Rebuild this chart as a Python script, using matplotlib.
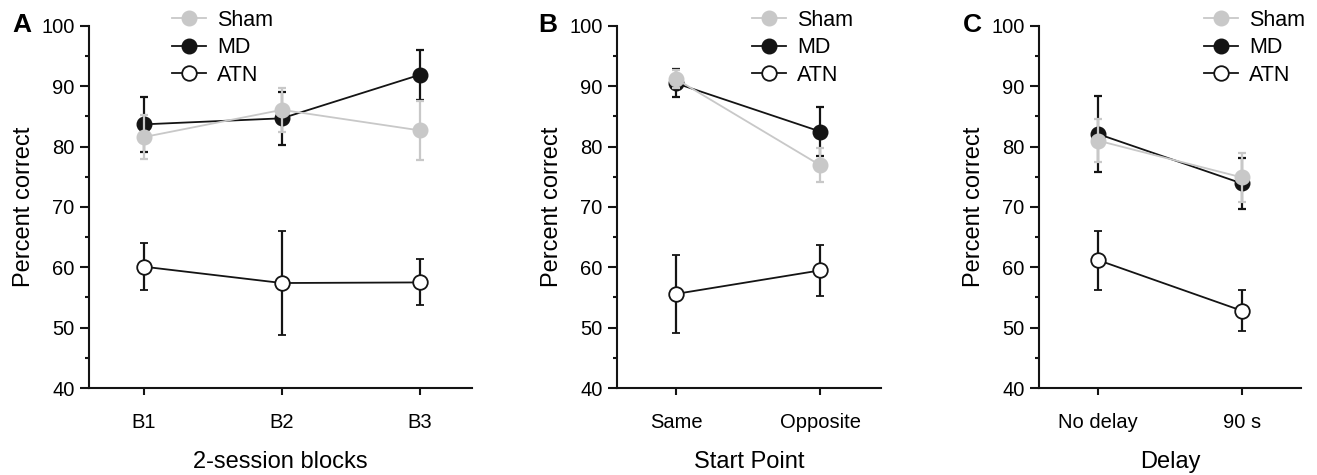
import matplotlib
matplotlib.use("Agg")
import matplotlib.pyplot as plt
from matplotlib.lines import Line2D
from matplotlib.ticker import MultipleLocator

plt.rcParams['font.family'] = ['Liberation Sans', 'DejaVu Sans']

# ---- data ----
groups = ['Sham', 'MD', 'ATN']

# A: 2-session blocks
a_cats = ['B1', 'B2', 'B3']
a_sham = [81.6, 86.1, 82.7]
a_sham_err = [3.6, 3.6, 4.9]
a_md = [83.7, 84.7, 91.9]
a_md_err = [4.6, 4.4, 4.2]
a_atn = [60.1, 57.4, 57.5]
a_atn_err = [3.9, 8.6, 3.8]

# B: start point
b_cats = ['Same', 'Opposite']
b_sham = [91.2, 76.9]
b_sham_err = [1.5, 2.8]
b_md = [90.5, 82.5]
b_md_err = [2.3, 4.1]
b_atn = [55.6, 59.5]
b_atn_err = [6.5, 4.2]

# C: delay
c_cats = ['No delay', '90 s']
c_sham = [81.0, 74.9]
c_sham_err = [3.6, 4.0]
c_md = [82.1, 73.9]
c_md_err = [6.3, 4.2]
c_atn = [61.2, 52.8]
c_atn_err = [4.9, 3.4]

GREY = '#c8c8c8'
BLACK = '#141414'

fig = plt.figure(figsize=(13.17, 4.75), dpi=100)

W, H = 1317, 475
def px_axes(left, right, top=26, bottom=388):
    return fig.add_axes([left / W, 1 - bottom / H, (right - left) / W, (bottom - top) / H])


def panel(ax, cats, sham, sham_err, md, md_err, atn, atn_err, xlim, xlabel):
    x = list(range(len(cats)))
    eb = dict(capsize=3, elinewidth=1.6, capthick=1.6, markersize=10.5, lw=1.3)
    ax.errorbar(x, atn, yerr=atn_err, color=BLACK, ecolor=BLACK, marker='o',
                mfc='white', mec=BLACK, mew=1.3, zorder=3, **eb)
    ax.errorbar(x, md, yerr=md_err, color=BLACK, ecolor=BLACK, marker='o',
                mfc=BLACK, mec=BLACK, zorder=4, **eb)
    ax.errorbar(x, sham, yerr=sham_err, color=GREY, ecolor=GREY, marker='o',
                mfc=GREY, mec=GREY, zorder=5, **eb)
    ax.set_xlim(*xlim)
    ax.set_ylim(40, 100)
    ax.set_xticks(x)
    ax.set_xticklabels(cats)
    ax.yaxis.set_major_locator(MultipleLocator(10))
    ax.yaxis.set_minor_locator(MultipleLocator(5))
    for s in ['top', 'right']:
        ax.spines[s].set_visible(False)
    for s in ['left', 'bottom']:
        ax.spines[s].set_linewidth(1.5)
        ax.spines[s].set_color(BLACK)
    ax.tick_params(axis='y', which='major', length=6.5, width=1.5, labelsize=14.5, pad=4, color=BLACK)
    ax.tick_params(axis='y', which='minor', length=3, width=1.5, color=BLACK)
    ax.tick_params(axis='x', which='major', length=5, width=1.5, labelsize=14.5, pad=13, color=BLACK)
    ax.set_ylabel('Percent correct', fontsize=17, labelpad=4)
    ax.set_xlabel(xlabel, fontsize=17, labelpad=14)
    for c in ax.get_children():
        if hasattr(c, 'set_clip_on'):
            c.set_clip_on(False)


ax_a = px_axes(89, 472)
panel(ax_a, a_cats, a_sham, a_sham_err, a_md, a_md_err, a_atn, a_atn_err,
      (-0.40, 2.38), '2-session blocks')
ax_b = px_axes(617, 881)
panel(ax_b, b_cats, b_sham, b_sham_err, b_md, b_md_err, b_atn, b_atn_err,
      (-0.41, 1.42), 'Start Point')
ax_c = px_axes(1039, 1301)
panel(ax_c, c_cats, c_sham, c_sham_err, c_md, c_md_err, c_atn, c_atn_err,
      (-0.41, 1.41), 'Delay')

# legends
handles = [
    Line2D([], [], color=GREY, marker='o', mfc=GREY, mec=GREY, markersize=10.5, lw=1.3),
    Line2D([], [], color=BLACK, marker='o', mfc=BLACK, mec=BLACK, markersize=10.5, lw=1.3),
    Line2D([], [], color=BLACK, marker='o', mfc='white', mec=BLACK, mew=1.3, markersize=10.5, lw=1.3),
]
for ax, lx in [(ax_a, 172), (ax_b, 752), (ax_c, 1204)]:
    ax.legend(handles, groups, loc='upper left', bbox_to_anchor=(lx / W, 1 - 10 / H),
              bbox_transform=fig.transFigure, frameon=False, fontsize=15.5,
              handlelength=1.6, handletextpad=0.5, labelspacing=0.3,
              borderpad=0, borderaxespad=0)

# panel letters
for lbl, lx in [('A', 22), ('B', 548), ('C', 972)]:
    fig.text(lx / W, 1 - 25 / H, lbl, fontsize=19, fontweight='bold', ha='center', va='center')

fig.savefig('out.png', dpi=100)
